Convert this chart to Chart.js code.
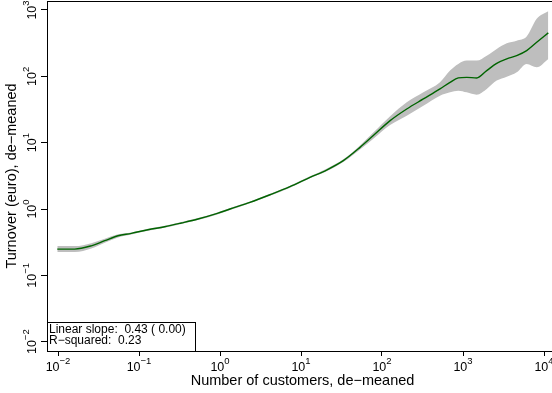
<!DOCTYPE html>
<html><head><meta charset="utf-8">
<script src="https://cdn.jsdelivr.net/npm/chart.js@4"></script>
<style>html,body{margin:0;padding:0;background:#fff;overflow:hidden}#wrap{width:552px;height:393px}</style>
</head><body><div id="wrap"><canvas id="c" width="552" height="393"></canvas></div>
<script>
// ---- data ----
const customers = [0.0098,0.0161,0.0258,0.0378,0.0551,0.0804,0.129,0.207,0.333,0.535,0.927,1.33,2.34,4.14,7.31,12.9,20.7,33.3,53.5,78.2,126,202,324,520,692,875,1112,1476,1963,2606,3467,4603,6109,8128,11298];
const turnover  = [0.249,0.249,0.279,0.333,0.395,0.429,0.488,0.541,0.615,0.706,0.859,1.00,1.26,1.64,2.17,3.00,3.87,5.36,8.49,12.8,21.5,32.2,45.6,64.6,81.3,94.6,96.6,94.6,122,157,183,205,244,326,452];
const upperCI   = [0.276,0.276,0.306,0.357,0.418,0.444,0.505,0.560,0.637,0.731,0.889,1.035,1.30,1.70,2.25,3.11,4.05,5.61,9.10,14.2,25.0,40.6,57.4,81.3,122,154,173,173,205,259,315,345,397,735,955];
const lowerCI   = [0.225,0.225,0.254,0.311,0.373,0.414,0.471,0.523,0.594,0.682,0.830,0.966,1.22,1.58,2.10,2.90,3.70,5.12,7.92,11.5,18.5,25.5,36.1,51.1,57.4,60.8,57.4,53.0,64.6,86.3,98.9,115,154,137,183];
const xTickExponents = [-2,-1,0,1,2,3,4];
const yTickExponents = [-2,-1,0,1,2,3];
const xTitle = 'Number of customers, de\u2212meaned';
const yTitle = 'Turnover (euro), de\u2212meaned';
const legendLines = ['Linear slope:  0.43 ( 0.00)', 'R\u2212squared:  0.23'];

const pts = (ys) => customers.map((x, i) => ({x: x, y: ys[i]}));
const FONT = '"Liberation Sans", Arial, sans-serif';

function drawPow(ctx, exp) {
  const base = '10';
  const sup = exp < 0 ? '\u2212' + (-exp) : String(exp);
  ctx.font = '12.5px ' + FONT;
  const wb = ctx.measureText(base).width;
  ctx.font = '9.5px ' + FONT;
  const ws = ctx.measureText(sup).width;
  const x0 = -(wb + ws) / 2;
  ctx.textAlign = 'left';
  ctx.textBaseline = 'alphabetic';
  ctx.font = '12.5px ' + FONT;
  ctx.fillText(base, x0, 0);
  ctx.font = '9.5px ' + FONT;
  ctx.fillText(sup, x0 + wb, -7);
}

const decor = {
  id: 'decor',
  afterDraw(chart) {
    const ctx = chart.ctx, a = chart.chartArea;
    const xs = chart.scales.x, ys = chart.scales.y;
    ctx.save();
    ctx.strokeStyle = '#000'; ctx.lineWidth = 1;
    ctx.beginPath();
    ctx.moveTo(a.left, a.top + 0.5); ctx.lineTo(a.right, a.top + 0.5);
    ctx.stroke();
    ctx.fillStyle = '#000';
    xTickExponents.forEach(e => {
      ctx.save(); ctx.translate(xs.getPixelForValue(Math.pow(10, e)), a.bottom + 20); drawPow(ctx, e); ctx.restore();
    });
    yTickExponents.forEach(e => {
      ctx.save(); ctx.translate(a.left - 11, ys.getPixelForValue(Math.pow(10, e))); ctx.rotate(-Math.PI / 2); drawPow(ctx, e); ctx.restore();
    });
    ctx.font = '14.5px ' + FONT;
    ctx.textAlign = 'center'; ctx.textBaseline = 'alphabetic';
    ctx.fillText(xTitle, (a.left + a.right) / 2 + 3, a.bottom + 33.5);
    ctx.save(); ctx.translate(a.left - 31, (a.top + a.bottom) / 2); ctx.rotate(-Math.PI / 2);
    ctx.fillText(yTitle, 0, 0); ctx.restore();
    // legend box
    const bw = 148, bh = 29;
    ctx.fillStyle = '#fff';
    ctx.fillRect(a.left, a.bottom - bh, bw, bh);
    ctx.strokeRect(a.left + 0.5, a.bottom - bh + 0.5, bw, bh);
    ctx.fillStyle = '#000';
    ctx.font = '12px ' + FONT; ctx.textAlign = 'left';
    ctx.fillText(legendLines[0], a.left + 2, a.bottom - 18);
    ctx.fillText(legendLines[1], a.left + 2, a.bottom - 7.5);
    ctx.restore();
  }
};

new Chart(document.getElementById('c'), {
  type: 'line',
  data: {
    datasets: [
      {data: pts(lowerCI), borderWidth: 0, pointRadius: 0, fill: false, backgroundColor: '#bebebe', cubicInterpolationMode: 'monotone', order: 2},
      {data: pts(upperCI), borderWidth: 0, pointRadius: 0, fill: '-1', backgroundColor: '#bebebe', cubicInterpolationMode: 'monotone', order: 2},
      {data: pts(turnover), borderColor: '#006400', borderWidth: 1.4, pointRadius: 0, fill: false, cubicInterpolationMode: 'monotone', order: 0}
    ]
  },
  options: {
    responsive: false, animation: false, devicePixelRatio: 1,
    layout: {padding: {top: 1, right: 0, left: 0, bottom: 0}},
    plugins: {legend: {display: false}, tooltip: {enabled: false}, title: {display: false}},
    scales: {
      x: {
        type: 'logarithmic', min: Math.pow(10, -2 - 11 / 81), max: Math.pow(10, 4 + 8 / 81),
        afterBuildTicks: s => { s.ticks = xTickExponents.map(e => ({value: Math.pow(10, e)})); },
        afterFit: s => { s.height = 42; },
        ticks: {display: false},
        grid: {drawOnChartArea: false, drawTicks: true, tickLength: 5, color: '#000'},
        border: {display: true, color: '#000', width: 1}
      },
      y: {
        type: 'logarithmic', min: Math.pow(10, -2 - 9.3 / 66.34), max: Math.pow(10, 3 + 9 / 66.34),
        afterBuildTicks: s => { s.ticks = yTickExponents.map(e => ({value: Math.pow(10, e)})); },
        afterFit: s => { s.width = 47; },
        ticks: {display: false},
        grid: {drawOnChartArea: false, drawTicks: true, tickLength: 6, color: '#000'},
        border: {display: true, color: '#000', width: 1}
      }
    }
  },
  plugins: [decor]
});
</script></body></html>
